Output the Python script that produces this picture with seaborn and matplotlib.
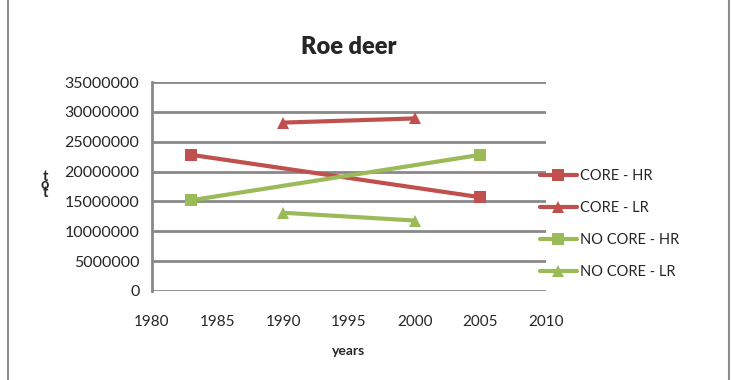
import numpy as np
import pandas as pd
import matplotlib
matplotlib.use('Agg')
import matplotlib.pyplot as plt
import seaborn as sns
from matplotlib.ticker import FuncFormatter
from matplotlib.patches import Rectangle
from matplotlib.lines import Line2D

# data
years_hr = [1983, 2005]
years_lr = [1990, 2000]
core_hr = [22800000, 15700000]
core_lr = [28200000, 28900000]
nocore_hr = [15200000, 22800000]
nocore_lr = [13100000, 11800000]
series_names = ['CORE - HR', 'CORE - LR', 'NO CORE - HR', 'NO CORE - LR']

red = '#C0504D'
green = '#9BBB59'
grid_col = '#898989'

rows = []
for name, yrs, vals in zip(series_names,
                           [years_hr, years_lr, years_hr, years_lr],
                           [core_hr, core_lr, nocore_hr, nocore_lr]):
    for y, v in zip(yrs, vals):
        rows.append({'year': y, 'tot': v, 'series': name})
df = pd.DataFrame(rows)

sns.set_style('white')
plt.rcParams['font.family'] = ['Lato', 'DejaVu Sans']

fig = plt.figure(figsize=(7.32, 3.80), dpi=100)
ax = fig.add_axes([152/732, 1-291/380, (546-152)/732, (291-82)/380])

palette = {'CORE - HR': red, 'CORE - LR': red, 'NO CORE - HR': green, 'NO CORE - LR': green}
markers = {'CORE - HR': 's', 'CORE - LR': '^', 'NO CORE - HR': 's', 'NO CORE - LR': '^'}
sns.lineplot(data=df, x='year', y='tot', hue='series', style='series',
             palette=palette, markers=markers, dashes=False, linewidth=3,
             markersize=9, markeredgewidth=0, ax=ax, zorder=3)

ax.set_xlim(1980, 2010)
ax.set_ylim(0, 35000000)
ax.set_xticks(range(1980, 2011, 5))
ax.set_yticks(range(0, 35000001, 5000000))
ax.yaxis.set_major_formatter(FuncFormatter(lambda v, p: '%d' % v))
ax.grid(axis='y', color=grid_col, linewidth=2)
ax.set_axisbelow(True)
for s in ['top', 'right', 'bottom']:
    ax.spines[s].set_visible(False)
ax.spines['left'].set_color(grid_col)
ax.spines['left'].set_linewidth(2)
ax.tick_params(axis='y', length=4, width=2, color=grid_col, labelsize=11.5, pad=5)
ax.tick_params(axis='x', length=0, labelsize=11, pad=17)

ax.set_xlabel('years', fontsize=10, fontweight='bold', labelpad=12)
ax.set_ylabel('')
fig.text(45/732, 1-185/380, 't\no\nt', fontsize=10.5, fontweight='bold',
         ha='center', va='center', linespacing=0.45)
ax.set_title('Roe deer', fontsize=17, fontweight='heavy', pad=20)

ax.get_legend().remove()
handles = [Line2D([], [], color=palette[n], marker=markers[n], linewidth=3,
                  markersize=9, markeredgewidth=0) for n in series_names]
fig.legend(handles, series_names, loc='center left', frameon=False,
           bbox_to_anchor=(527/732, 1-224/380), fontsize=10.5,
           handlelength=2.5, handletextpad=0.2, labelspacing=1.25)

fig.patches.append(Rectangle((8/732, -0.05), (729-8)/732, 1.2,
                             transform=fig.transFigure, fill=False,
                             edgecolor='#8c8c8c', linewidth=1.5))

fig.savefig('out.png', dpi=100)
